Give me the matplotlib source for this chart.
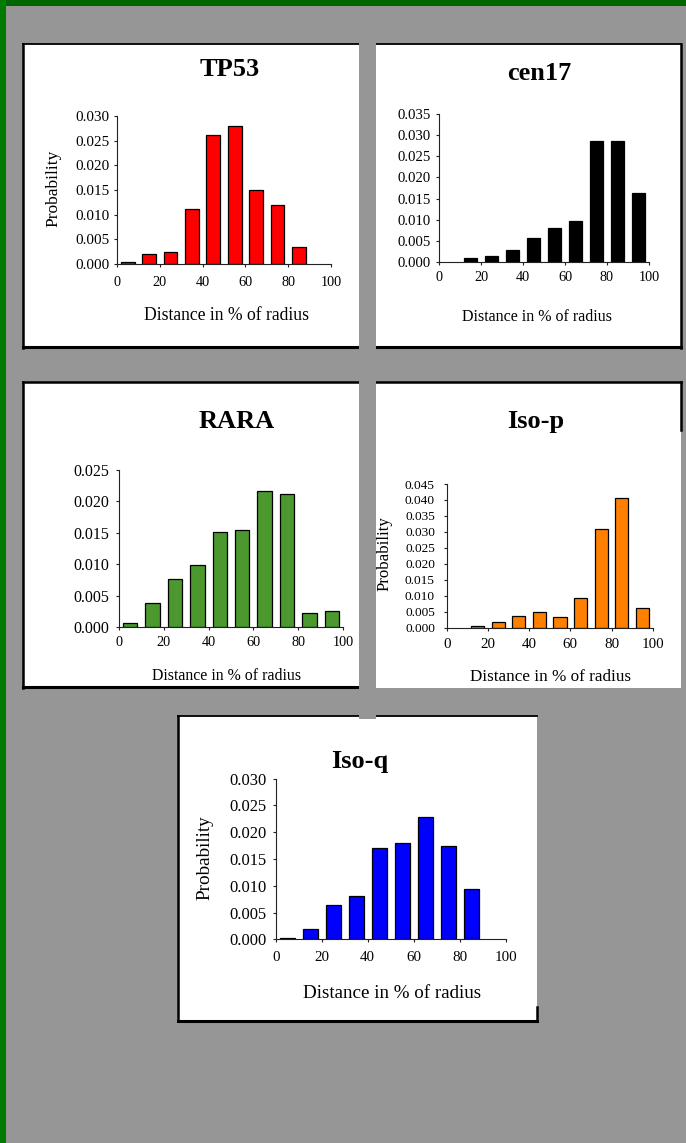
import numpy as np
import matplotlib
matplotlib.use("Agg")
import matplotlib.pyplot as plt
from matplotlib.patches import Rectangle
from matplotlib.lines import Line2D

plt.rcParams['font.family'] = ['Liberation Serif', 'DejaVu Serif']

# ---- data: probability per 10%-of-radius bin ----
bin_centers = [5, 15, 25, 35, 45, 55, 65, 75, 85, 95]
xtick_values = [0, 20, 40, 60, 80, 100]

tp53 = [0.0004, 0.0021, 0.0025, 0.0111, 0.0262, 0.0279, 0.0151, 0.0120, 0.0034, 0.0]
cen17 = [0.0, 0.0009, 0.0014, 0.0028, 0.0056, 0.0081, 0.0096, 0.0287, 0.0286, 0.0162]
rara = [0.0006, 0.0039, 0.0077, 0.0099, 0.0151, 0.0155, 0.0217, 0.0211, 0.0022, 0.0025]
iso_p = [0.0, 0.0006, 0.0017, 0.0037, 0.0048, 0.0034, 0.0094, 0.0308, 0.0405, 0.0061]
iso_q = [0.0002, 0.0019, 0.0064, 0.0080, 0.0170, 0.0179, 0.0228, 0.0174, 0.0094, 0.0]

titles = ["TP53", "cen17", "RARA", "Iso-p", "Iso-q"]
y_max = [0.030, 0.035, 0.025, 0.045, 0.030]
colors = ["#ff0000", "#000000", "#4a982e", "#ff8000", "#0000ff"]
series = [tp53, cen17, rara, iso_p, iso_q]
has_ylabel = [True, False, False, True, True]

W, H = 686, 1143
BG = "#969696"
fig = plt.figure(figsize=(W / 100, H / 100), dpi=100, facecolor=BG)


def fx(x):
    return x / W


def fy(y):
    return 1 - y / H


def hline(x0, x1, y, lw):
    fig.add_artist(Line2D([fx(x0), fx(x1)], [fy(y), fy(y)], color="black",
                          lw=lw, transform=fig.transFigure, zorder=2))


def vline(x, y0, y1, lw):
    fig.add_artist(Line2D([fx(x), fx(x)], [fy(y0), fy(y1)], color="black",
                          lw=lw, transform=fig.transFigure, zorder=2))


def white_box(x0, y0, x1, y1):
    fig.add_artist(Rectangle((fx(x0), fy(y1)), (x1 - x0) / W, (y1 - y0) / H,
                             transform=fig.transFigure, facecolor="white",
                             edgecolor="none", zorder=1))


# green frame of the slide
fig.add_artist(Rectangle((0, fy(6)), 1, 6 / H, transform=fig.transFigure,
                         facecolor="#006600", edgecolor="none", zorder=1))
fig.add_artist(Rectangle((0, 0), 6 / W, 1, transform=fig.transFigure,
                         facecolor="#007a00", edgecolor="none", zorder=1))

# panel backgrounds and borders
white_box(23, 44, 359, 348)
hline(23, 359, 44, 1.3); vline(23, 44, 348, 1.8); hline(23, 359, 347.5, 2.2)

white_box(376, 44, 681, 348)
hline(376, 681, 44, 1.3); vline(680.5, 44, 348, 1.8); hline(376, 681, 347.5, 2.2)

white_box(23, 382, 359, 688)
hline(23, 359, 382, 1.8); vline(23, 382, 688, 1.8); hline(23, 359, 687, 2.2)

white_box(376, 382, 681, 688)
hline(376, 681, 382, 1.8); vline(680.5, 382, 430, 1.8)

white_box(178, 716, 537, 1021)
hline(178, 537, 716, 1.3); vline(178, 716, 1021, 1.8)
hline(178, 537, 1020.5, 2.2); vline(537, 1007, 1021, 1.8)

# gray gap between the columns of panels
fig.add_artist(Rectangle((fx(359), fy(719)), 17 / W, (719 - 40) / H,
                         transform=fig.transFigure, facecolor=BG,
                         edgecolor="none", zorder=3))

# axes rectangles in pixels: left, top, right, bottom
axes_px = [(117, 116, 331, 264), (439, 114.3, 649, 261.7), (119, 470, 343, 627),
           (446.7, 484, 652.7, 627.7), (275.7, 778.7, 505.7, 939.3)]
ytick_size = [10.9, 10.6, 11.5, 9.6, 11.9]
xtick_size = [10.3, 10.3, 10.3, 10.8, 10.8]
ytick_pad = [3.0, 3.6, 4.3, 6.0, 4.3]
xtick_pad = [6.0, 4.0, 4.0, 5.0, 6.0]

# text positions in pixels: (x centre, baseline)
title_pos = [(230, 76), (539, 80), (237, 428), (536, 428), (360, 768)]
xlabel_pos = [(226, 320), (537, 321), (227, 680), (551, 681), (392, 998)]
xlabel_size = [12.7, 11.5, 11.4, 12.3, 13.7]
ylabel_pos = [(53, 188), None, None, (385, 554), (205, 857.5)]
ylabel_size = [12.5, None, None, 12.2, 13.8]

for i in range(5):
    l, t, r, b = axes_px[i]
    ax = fig.add_axes([fx(l), fy(b), (r - l) / W, (b - t) / H])
    ax.set_zorder(4)
    ax.patch.set_alpha(0)
    vals = np.array(series[i])
    xs = np.array(bin_centers)
    mask = vals > 0
    ax.bar(xs[mask], vals[mask], width=6.4, color=colors[i],
           edgecolor="black", linewidth=0.9)
    ax.set_xlim(0, 100)
    ax.set_ylim(0, y_max[i])
    ax.set_xticks(xtick_values)
    ax.set_xticklabels([str(v) for v in xtick_values])
    yt = np.arange(0, y_max[i] + 1e-9, 0.005)
    ax.set_yticks(yt)
    ax.set_yticklabels([f"{v:.3f}" for v in yt])
    for s in ("top", "right"):
        ax.spines[s].set_visible(False)
    for s in ("left", "bottom"):
        ax.spines[s].set_linewidth(0.8)
        ax.spines[s].set_color("#222222")
    ax.tick_params(axis="y", length=2.5, width=0.8, pad=ytick_pad[i],
                   labelsize=ytick_size[i], color="#222222")
    ax.tick_params(axis="x", length=2.5, width=0.8, pad=xtick_pad[i],
                   labelsize=xtick_size[i], color="#222222")

    tx, ty = title_pos[i]
    fig.text(fx(tx), fy(ty), titles[i], ha="center", va="baseline",
             fontsize=19, fontweight="bold", zorder=5)
    lx, ly = xlabel_pos[i]
    fig.text(fx(lx), fy(ly), "Distance in % of radius", ha="center",
             va="baseline", fontsize=xlabel_size[i], zorder=5)
    if has_ylabel[i]:
        px, py = ylabel_pos[i]
        fig.text(fx(px), fy(py), "Probability", rotation=90, ha="center",
                 va="center", fontsize=ylabel_size[i], zorder=5)

fig.savefig("out.png", dpi=100, facecolor=BG)
